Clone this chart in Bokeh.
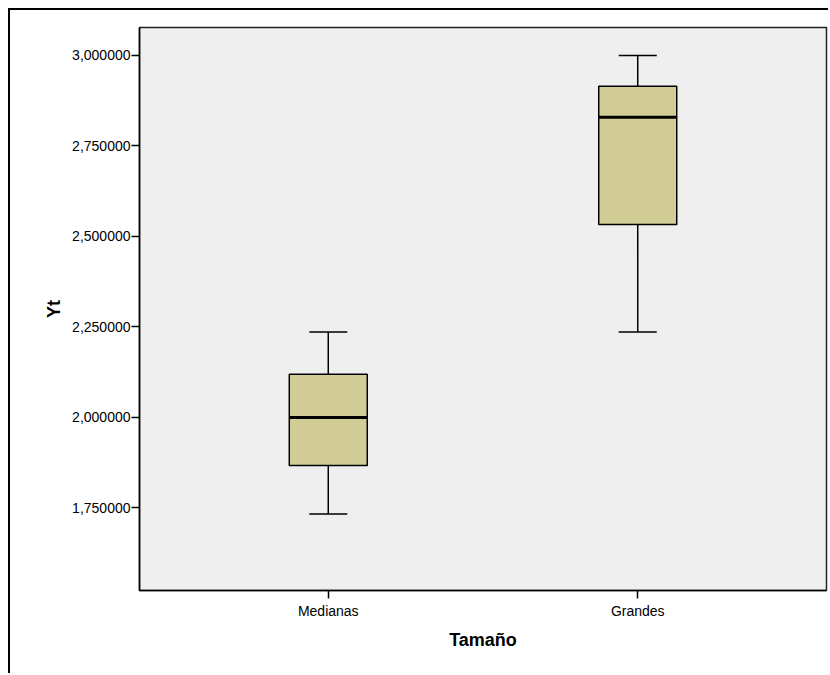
from bokeh.plotting import figure
from bokeh.models import ColumnDataSource, FactorRange, Range1d, FixedTicker
from bokeh.transform import dodge
from bokeh.embed import file_html
from bokeh.resources import INLINE

categories = ["Medianas", "Grandes"]
lower = [1.733, 2.236]
q1 = [1.867, 2.533]
median = [2.000, 2.829]
q3 = [2.119, 2.915]
upper = [2.236, 3.000]

y_ticks = [1.75, 2.0, 2.25, 2.5, 2.75, 3.0]
y_tick_labels = ["1,750000", "2,000000", "2,250000", "2,500000", "2,750000", "3,000000"]

src = ColumnDataSource(dict(cat=categories, lower=lower, q1=q1, median=median, q3=q3, upper=upper))

FONT = "Liberation Sans"

p = figure(width=820, height=665, output_backend="svg", toolbar_location=None,
           x_range=FactorRange(*categories, range_padding=0.11),
           y_range=Range1d(1.522, 3.077),
           min_border_left=129, min_border_right=4, min_border_top=17, min_border_bottom=85)
p.styles = {"border-left": "2px solid black", "border-top": "2px solid black",
            "margin-left": "8px", "margin-top": "8px"}

p.background_fill_color = "#efefef"
p.border_fill_color = "white"
p.outline_line_color = "#222222"
p.outline_line_width = 1.5
p.xgrid.visible = False
p.ygrid.visible = False

cap_half = 0.0614
box_half = 0.126

# whisker stems
p.segment(x0="cat", x1="cat", y0="q3", y1="upper", source=src, line_color="black", line_width=1.5)
p.segment(x0="cat", x1="cat", y0="q1", y1="lower", source=src, line_color="black", line_width=1.5)
# caps
p.segment(x0=dodge("cat", -cap_half, range=p.x_range), x1=dodge("cat", cap_half, range=p.x_range),
          y0="upper", y1="upper", source=src, line_color="black", line_width=1.5)
p.segment(x0=dodge("cat", -cap_half, range=p.x_range), x1=dodge("cat", cap_half, range=p.x_range),
          y0="lower", y1="lower", source=src, line_color="black", line_width=1.5)
# boxes
p.vbar(x="cat", width=2 * box_half, top="q3", bottom="q1", source=src,
       fill_color="#d2cd97", line_color="black", line_width=1.5)
# median
p.segment(x0=dodge("cat", -box_half, range=p.x_range), x1=dodge("cat", box_half, range=p.x_range),
          y0="median", y1="median", source=src, line_color="black", line_width=3)

p.yaxis.ticker = FixedTicker(ticks=y_ticks, minor_ticks=[])
p.yaxis.major_label_overrides = {t: l for t, l in zip(y_ticks, y_tick_labels)}

for ax in (p.xaxis[0], p.yaxis[0]):
    ax.axis_line_color = "black"
    ax.axis_line_width = 1.5
    ax.major_tick_line_color = "black"
    ax.major_tick_line_width = 1.5
    ax.major_tick_out = 8
    ax.major_tick_in = 0
    ax.minor_tick_line_color = None
    ax.major_label_text_font = FONT
    ax.major_label_text_font_size = "14px"
    ax.major_label_text_color = "black"
    ax.axis_label_text_font = FONT
    ax.axis_label_text_font_size = "18px"
    ax.axis_label_text_font_style = "bold"
    ax.axis_label_text_color = "black"

p.xaxis.axis_label = "Tamaño"
p.yaxis.axis_label = "Yt"
p.xaxis.major_label_standoff = 4
p.yaxis.major_label_standoff = 1
p.xaxis.axis_label_standoff = 8
p.yaxis.axis_label_standoff = 5

open("out.html", "w").write(file_html(p, INLINE))
